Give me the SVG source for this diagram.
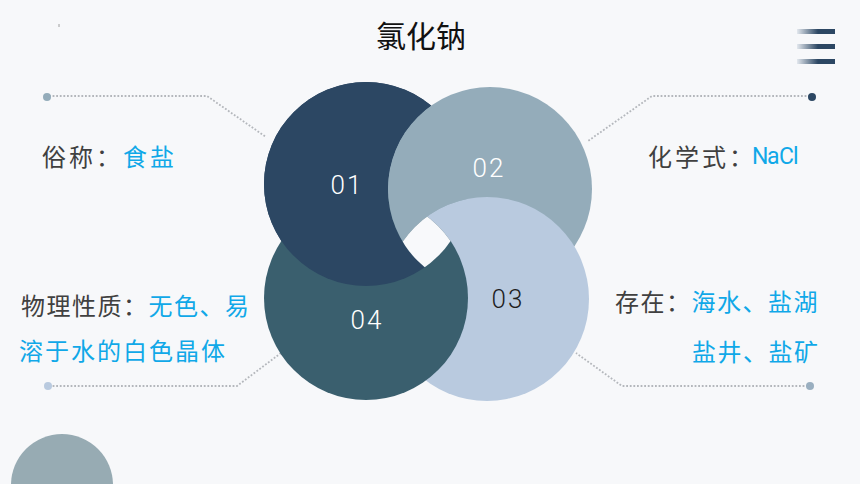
<svg xmlns="http://www.w3.org/2000/svg" width="860" height="484" viewBox="0 0 860 484">
<style>
.cn{font-family:"Noto Sans CJK SC","Noto Sans",sans-serif;font-size:24px}
.lab{fill:#404040}
.val{fill:#10A8E8}
.num{font-family:Roboto,"Noto Sans",sans-serif;font-weight:300;font-size:26px;letter-spacing:2px;text-anchor:middle}
.dot{fill:none;stroke:#B4B7BC;stroke-width:1.8;stroke-dasharray:1.8 1.8}
</style>
<defs>
<linearGradient id="bar" x1="0" y1="0" x2="1" y2="0">
<stop offset="0" stop-color="#E3E8EE"/>
<stop offset="0.55" stop-color="#2C4763"/>
<stop offset="1" stop-color="#2C4763"/>
</linearGradient>
<clipPath id="c1"><circle cx="366" cy="184" r="102"/></clipPath>
<clipPath id="c2"><circle cx="490" cy="189" r="102"/></clipPath>
<clipPath id="c3"><circle cx="487" cy="299" r="102"/></clipPath>
<mask id="not2" maskUnits="userSpaceOnUse" x="0" y="0" width="860" height="484">
<rect width="860" height="484" fill="#fff"/>
<circle cx="490" cy="189" r="102" fill="#000"/>
</mask>
<mask id="not3" maskUnits="userSpaceOnUse" x="0" y="0" width="860" height="484">
<rect width="860" height="484" fill="#fff"/>
<circle cx="487" cy="299" r="102" fill="#000"/>
</mask>
</defs>
<rect width="860" height="484" fill="#F7F8FA"/>
<line x1="59" y1="24" x2="59" y2="27" stroke="#888" stroke-width="0.8"/>
<text x="421" y="47" text-anchor="middle" font-family="'Noto Sans CJK SC',sans-serif" font-size="30" fill="#111">氯化钠</text>
<g id="menu-icon">
<rect x="797" y="29" width="38" height="5" fill="url(#bar)"/>
<rect x="797" y="44" width="38" height="5" fill="url(#bar)"/>
<rect x="797" y="59" width="38" height="5" fill="url(#bar)"/>
</g>
<circle cx="62" cy="485" r="51" fill="#97ABB3"/>
<g id="connectors">
<polyline class="dot" points="49,96 207,96 266,137"/>
<polyline class="dot" points="49,386 237,386 281,353"/>
<polyline class="dot" points="810,96 652,96 588,141"/>
<polyline class="dot" points="808,386 622,386 576,353"/>
<circle cx="47" cy="97" r="4" fill="#94ACBA"/>
<circle cx="48" cy="386" r="4" fill="#B9CADF"/>
<circle cx="812" cy="97" r="4" fill="#2C4763"/>
<circle cx="810" cy="386" r="4" fill="#9AAFC0"/>
</g>
<g id="rings">
<circle cx="366" cy="184" r="102" fill="#2C4763"/>
<circle cx="490" cy="189" r="102" fill="#94ACBA"/>
<circle cx="487" cy="299" r="102" fill="#B9CADF"/>
<circle cx="366" cy="298" r="102" fill="#3A5F6E"/>
<circle cx="366" cy="184" r="102" fill="#2C4763" mask="url(#not2)"/>
<g clip-path="url(#c1)"><circle cx="490" cy="189" r="102" fill="#94ACBA" mask="url(#not3)"/></g>
<g clip-path="url(#c1)"><g clip-path="url(#c2)"><g clip-path="url(#c3)"><circle cx="366" cy="298" r="102" fill="#F8F9FB"/></g></g></g>
</g>
<g id="node-01"><text class="num" x="347" y="194" fill="#FFFFFF">01</text></g>
<g id="node-02"><text class="num" x="489" y="177" fill="#FFFFFF">02</text></g>
<g id="node-03"><text class="num" x="508" y="308" fill="#1E1E1E">03</text></g>
<g id="node-04"><text class="num" x="367" y="329" fill="#FFFFFF">04</text></g>
<g id="label-01"><text class="cn" x="42" y="166" letter-spacing="3"><tspan class="lab">俗称：</tspan><tspan class="val">食盐</tspan></text></g>
<g id="label-02">
<text class="cn lab" x="648" y="166" letter-spacing="3">化学式：</text>
<text class="val" x="752 767 779 793" y="164" font-family="Roboto,sans-serif" font-size="23">NaCl</text>
</g>
<g id="label-03">
<text class="cn" x="615" y="311" letter-spacing="1.5"><tspan class="lab">存在：</tspan><tspan class="val">海水、盐湖</tspan></text>
<text class="cn val" x="692" y="361" letter-spacing="1.5">盐井、盐矿</text>
</g>
<g id="label-04">
<text class="cn" x="21" y="315" letter-spacing="1.5"><tspan class="lab">物理性质：</tspan><tspan class="val">无色、易</tspan></text>
<text class="cn val" x="19" y="360" letter-spacing="2">溶于水的白色晶体</text>
</g>
</svg>
